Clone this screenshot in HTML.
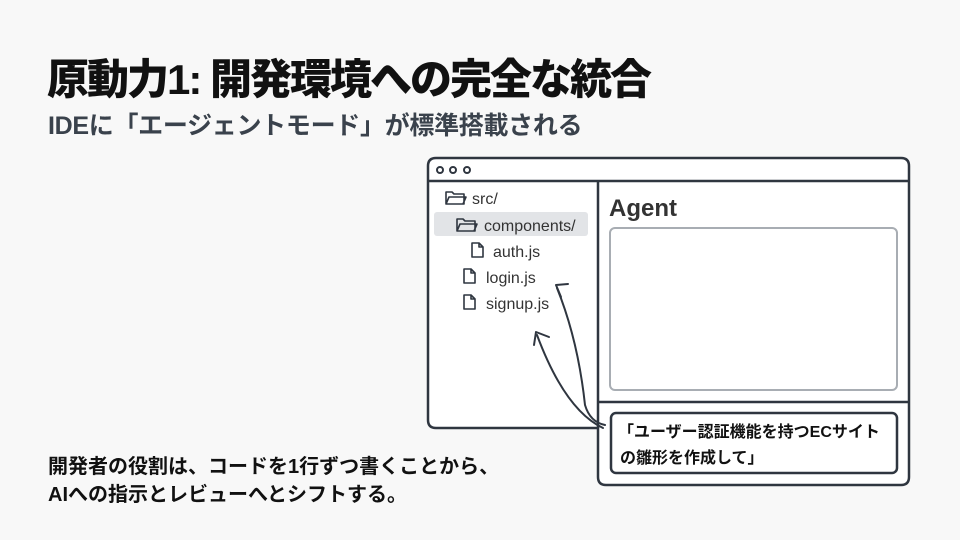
<!DOCTYPE html>
<html><head><meta charset="utf-8"><style>
html,body{margin:0;padding:0;background:#f8f8f8;}
body{width:960px;height:540px;position:relative;overflow:hidden;font-family:"Liberation Sans","Noto Sans CJK JP",sans-serif;}
.t{position:absolute;white-space:nowrap;}
</style></head><body>
<div class="t" style="left:47px;top:46px;font-size:42px;font-weight:900;color:#111;letter-spacing:-2px;">原動力1: 開発環境への完全な統合</div>
<div class="t" style="left:48px;top:106px;font-size:25px;font-weight:700;color:#3a424c;letter-spacing:-0.3px;">IDEに「エージェントモード」が標準搭載される</div>
<div class="t" style="left:48px;top:453px;font-size:20px;font-weight:700;color:#111;line-height:28px;">開発者の役割は、コードを1行ずつ書くことから、<br>AIへの指示とレビューへとシフトする。</div>
<svg width="960" height="540" style="position:absolute;left:0;top:0" xmlns="http://www.w3.org/2000/svg">
<g fill="none" stroke="#2f3640" stroke-width="2.5">
<path d="M436,158 H901 Q909,158 909,166 V477 Q909,485 901,485 H606 Q598,485 598,477 V428 H436 Q428,428 428,420 V166 Q428,158 436,158 Z" fill="#fff"/>
<line x1="428" y1="181" x2="909" y2="181"/>
<line x1="598" y1="181" x2="598" y2="428"/>
<line x1="598" y1="402" x2="909" y2="402"/>
<circle cx="440" cy="170" r="3" stroke-width="2"/><circle cx="453" cy="170" r="3" stroke-width="2"/><circle cx="467" cy="170" r="3" stroke-width="2"/>
<rect x="611" y="413" width="286" height="60" rx="5"/>
</g>
<rect x="610" y="228" width="287" height="162" rx="5" fill="#fff" stroke="#a8adb3" stroke-width="2"/>
<rect x="434" y="212" width="154" height="24" rx="3" fill="#e2e4e7"/>
<g fill="none" stroke="#2f3640" stroke-width="1.6" stroke-linejoin="round">
<path d="M446,204 V192 H452 L454,194 H464 V204 Z M446,204 L449,197 H466 L463,204"/>
<path d="M457,231 V219 H463 L465,221 H475 V231 Z M457,231 L460,224 H477 L474,231"/>
<path d="M472,243 H479 L483,247 V257 H472 Z M479,243 V247 H483"/>
<path d="M464,269 H471 L475,273 V283 H464 Z M471,269 V273 H475"/>
<path d="M464,295 H471 L475,299 V309 H464 Z M471,295 V299 H475"/>
</g>
<g font-family="Liberation Sans,sans-serif" font-size="16" fill="#333">
<text x="472" y="204">src/</text>
<text x="484" y="231">components/</text>
<text x="493" y="257">auth.js</text>
<text x="486" y="283">login.js</text>
<text x="486" y="309">signup.js</text>
</g>
<text x="609" y="216" font-family="Liberation Sans,sans-serif" font-size="24" font-weight="700" fill="#333">Agent</text>
<g font-family="Liberation Sans,'Noto Sans CJK JP',sans-serif" font-size="16" font-weight="700" fill="#111">
<text x="618" y="437">「ユーザー認証機能を持つECサイト</text>
<text x="620" y="463">の雛形を作成して」</text>
</g>
<g fill="none" stroke="#2f3640" stroke-width="2" stroke-linecap="round" stroke-linejoin="round">
<path d="M605,425 Q590,422 585,405 Q578,340 557,288"/>
<path d="M568,284 L556,285 L561,297"/>
<path d="M603,428 Q565,410 537,335"/>
<path d="M549,337 L536,332 L534,345"/>
</g>
</svg>
</body></html>
